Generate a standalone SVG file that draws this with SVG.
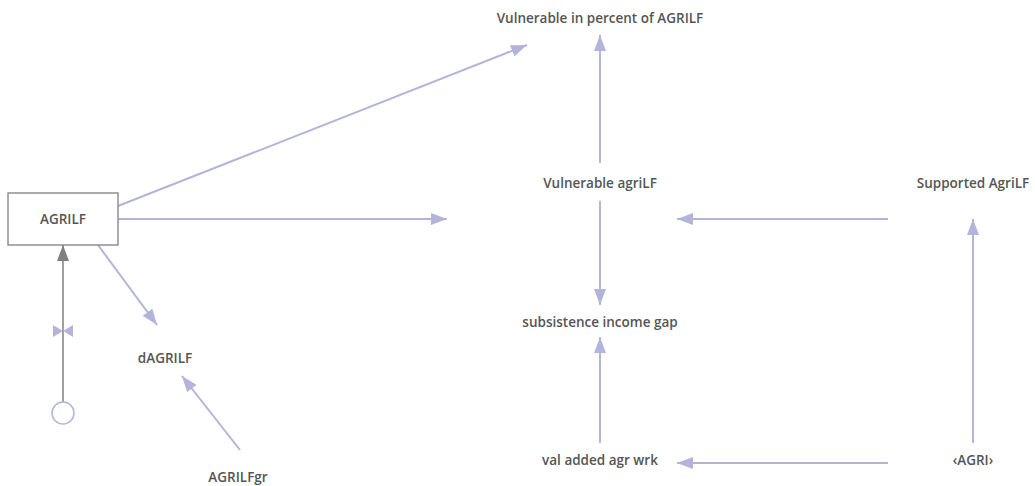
<svg xmlns="http://www.w3.org/2000/svg" width="1035" height="486" viewBox="0 0 1035 486">
<defs>
<style>
text{font-family:"Open Sans","Liberation Sans",sans-serif;font-size:13.5px;font-weight:600;fill:#555;text-anchor:middle;dominant-baseline:central}
.c{stroke:#b4b4da;stroke-width:2;fill:none}
</style>
<marker id="a" viewBox="0 0 16 12" refX="16" refY="6" markerWidth="16" markerHeight="12" markerUnits="userSpaceOnUse" orient="auto"><path d="M0,0L16,6L0,12z" fill="#b4b4da"/></marker>
<marker id="g" viewBox="0 0 16 12" refX="16" refY="6" markerWidth="16" markerHeight="12" markerUnits="userSpaceOnUse" orient="auto"><path d="M0,0L16,6L0,12z" fill="#808080"/></marker>
</defs>
<rect width="1035" height="486" fill="#fff"/>
<g id="connectors">
<line class="c" x1="118" y1="206" x2="527" y2="45" marker-end="url(#a)"/>
<line class="c" x1="118" y1="219" x2="447" y2="219" marker-end="url(#a)"/>
<line class="c" x1="98" y1="245" x2="157" y2="325" marker-end="url(#a)"/>
<line class="c" x1="240" y1="450" x2="182" y2="376" marker-end="url(#a)"/>
<line class="c" x1="600" y1="163" x2="600" y2="35" marker-end="url(#a)"/>
<line class="c" x1="600" y1="201" x2="600" y2="305" marker-end="url(#a)"/>
<line class="c" x1="600" y1="443" x2="600" y2="337" marker-end="url(#a)"/>
<line class="c" x1="888" y1="219" x2="677" y2="219" marker-end="url(#a)"/>
<line class="c" x1="888" y1="463" x2="677" y2="463" marker-end="url(#a)"/>
<line class="c" x1="973" y1="443" x2="973" y2="219" marker-end="url(#a)"/>
</g>
<g id="flow">
<line x1="63" y1="402" x2="63" y2="245" stroke="#808080" stroke-width="1.5" marker-end="url(#g)"/>
<path d="M53,325L63,331L53,337z M73,325L63,331L73,337z" fill="#b4b4da"/>
<circle cx="63" cy="413" r="11" fill="#fff" stroke="#b4b4da" stroke-width="1.5"/>
</g>
<g id="AGRILF"><rect x="8" y="193" width="110" height="52" fill="#fff" stroke="#808080" stroke-width="1.3"/><text x="63" y="219">AGRILF</text></g>
<g id="dAGRILF"><text x="165" y="358">dAGRILF</text></g>
<g id="AGRILFgr"><text x="238" y="477">AGRILFgr</text></g>
<g id="vulnpct"><text x="600" y="18">Vulnerable in percent of AGRILF</text></g>
<g id="vulnagri"><text x="600" y="183">Vulnerable agriLF</text></g>
<g id="gap"><text x="600" y="322">subsistence income gap</text></g>
<g id="valadded"><text x="600" y="460">val added agr wrk</text></g>
<g id="supported"><text x="973" y="183">Supported AgriLF</text></g>
<g id="agri"><text x="973" y="460">‹AGRI›</text></g>
</svg>
